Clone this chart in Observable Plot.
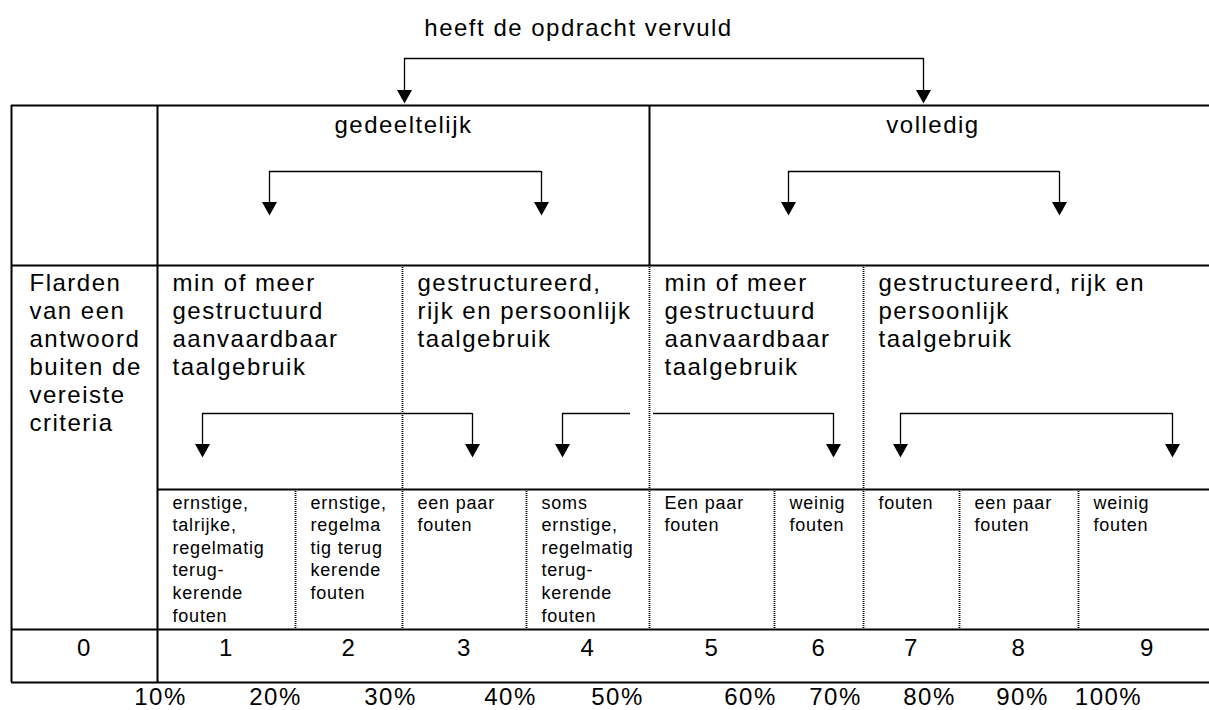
<!DOCTYPE html>
<html>
<head>
<meta charset="utf-8">
<script src="https://cdn.jsdelivr.net/npm/d3@7"></script>
<script src="https://cdn.jsdelivr.net/npm/@observablehq/plot@0.6"></script>
<style>
  html, body { margin: 0; padding: 0; background: white; }
</style>
</head>
<body>
<div id="chart"></div>
<script>
// ---------------- data ----------------
const title = "heeft de opdracht vervuld";
const fulfilment = ["gedeeltelijk", "volledig"];
const languageUse = [
  "min of meer\ngestructuurd\naanvaardbaar\ntaalgebruik",
  "gestructureerd,\nrijk en persoonlijk\ntaalgebruik",
  "min of meer\ngestructuurd\naanvaardbaar\ntaalgebruik",
  "gestructureerd, rijk en\npersoonlijk\ntaalgebruik"
];
const zeroDescription = "Flarden\nvan een\nantwoord\nbuiten de\nvereiste\ncriteria";
const errorDescriptions = [
  "ernstige,\ntalrijke,\nregelmatig\nterug-\nkerende\nfouten",
  "ernstige,\nregelma\ntig terug\nkerende\nfouten",
  "een paar\nfouten",
  "soms\nernstige,\nregelmatig\nterug-\nkerende\nfouten",
  "Een paar\nfouten",
  "weinig\nfouten",
  "fouten",
  "een paar\nfouten",
  "weinig\nfouten"
];
const scores = [0, 1, 2, 3, 4, 5, 6, 7, 8, 9];
const percentages = ["10%", "20%", "30%", "40%", "50%", "60%", "70%", "80%", "90%", "100%"];

// ---------------- layout (table geometry) ----------------
const colEdges = [11, 157, 295, 402, 526, 649, 774, 863, 959, 1078, 1216]; // cells of score 0..9
const rowEdges = [105, 265, 489, 629, 682];
const fulfilmentSpan = [[1, 4], [5, 9]];            // score ranges
const languageSpan = [[1, 2], [3, 4], [5, 6], [7, 9]];
const percentX = [160, 275, 390, 510, 617, 750, 835, 929, 1022, 1108];
const pad = 15;
const left = colEdges[0], right = colEdges[colEdges.length - 1];

const connectors = [
  {y: 58, x1: 404, x2: 923, heads: [404, 923], tip: 103},
  {y: 171, x1: 269, x2: 541, heads: [269, 541], tip: 215},
  {y: 171, x1: 788, x2: 1059, heads: [788, 1059], tip: 215},
  {y: 413, x1: 202, x2: 472, heads: [202, 472], tip: 457},
  {y: 413, x1: 562, x2: 630, heads: [562], tip: 457},
  {y: 413, x1: 653, x2: 833, heads: [833], tip: 457},
  {y: 413, x1: 900, x2: 1172, heads: [900, 1172], tip: 457}
];
const heads = connectors.flatMap(c => c.heads.map(x => ({x, y: c.y, tip: c.tip})));

// ---------------- derived tables ----------------
const solidV = [
  {x: colEdges[0], y1: rowEdges[0], y2: rowEdges[4]},
  {x: colEdges[1], y1: rowEdges[0], y2: rowEdges[4]},
  {x: colEdges[5], y1: rowEdges[0], y2: rowEdges[1]}
];
const solidH = [
  {y: rowEdges[0], x1: left, x2: right},
  {y: rowEdges[1], x1: left, x2: right},
  {y: rowEdges[2], x1: colEdges[1], x2: right},
  {y: rowEdges[3], x1: left, x2: right},
  {y: rowEdges[4], x1: left, x2: right}
];
const dottedV = [
  ...languageSpan.slice(1).map(([a]) => ({x: colEdges[a], y1: rowEdges[1], y2: rowEdges[2]})),
  ...scores.slice(2).map(s => ({x: colEdges[s], y1: rowEdges[2], y2: rowEdges[3]}))
];
const fulfilmentLabels = fulfilment.map((label, i) => ({
  label, x: (colEdges[fulfilmentSpan[i][0]] + colEdges[fulfilmentSpan[i][1] + 1]) / 2
}));
const bigLH = 28, smallLH = 22.6;
const row2Labels = [
  {label: zeroDescription, x: colEdges[0] + 18},
  ...languageUse.map((label, i) => ({label, x: colEdges[languageSpan[i][0]] + pad}))
];
const row3Labels = errorDescriptions.map((label, i) => ({label, x: colEdges[i + 1] + pad}));
const scoreLabels = scores.map(s => ({label: String(s), x: (colEdges[s] + colEdges[s + 1]) / 2}));
const percentLabels = percentages.map((label, i) => ({label, x: percentX[i]}));

const downTriangle = {
  draw(ctx) {
    ctx.moveTo(-7.5, -13.5);
    ctx.lineTo(7.5, -13.5);
    ctx.lineTo(0, 0);
    ctx.closePath();
  }
};

const svg = Plot.plot({
  width: 1209,
  height: 710,
  margin: 0,
  x: {type: "identity", axis: null},
  y: {type: "identity", axis: null},
  style: {fontFamily: "'Liberation Sans', Arial, sans-serif", background: "white", color: "black"},
  marks: [
    // table frame
    Plot.ruleX(solidV, {x: "x", y1: "y1", y2: "y2", stroke: "black", strokeWidth: 2}),
    Plot.ruleY(solidH, {y: "y", x1: "x1", x2: "x2", stroke: "black", strokeWidth: 2}),
    Plot.ruleX(dottedV, {x: "x", y1: "y1", y2: "y2", stroke: "black", strokeWidth: 1.8, strokeDasharray: "1,1"}),
    // arrows
    Plot.ruleY(connectors, {y: "y", x1: "x1", x2: "x2", stroke: "black", strokeWidth: 1.3}),
    Plot.ruleX(heads, {x: "x", y1: "y", y2: d => d.tip - 12, stroke: "black", strokeWidth: 1.3}),
    Plot.dot(heads, {x: "x", y: "tip", symbol: downTriangle, fill: "black", stroke: "none"}),
    // texts
    Plot.text([title], {x: () => 578, y: () => 35, text: d => d, fontSize: 24, lineAnchor: "bottom", fill: "black"}),
    Plot.text(fulfilmentLabels, {x: "x", y: () => 132, text: "label", fontSize: 24, lineAnchor: "bottom", fill: "black"}),
    Plot.text(row2Labels, {x: "x", y: () => rowEdges[1] + 6, text: "label", fontSize: 24, lineHeight: bigLH / 24, lineAnchor: "top", textAnchor: "start", fill: "black"}),
    Plot.text(row3Labels, {x: "x", y: () => rowEdges[2] + 3, text: "label", fontSize: 18, lineHeight: smallLH / 18, lineAnchor: "top", textAnchor: "start", fill: "black"}),
    Plot.text(scoreLabels, {x: "x", y: () => 655, text: "label", fontSize: 24, lineAnchor: "bottom", fill: "black"}),
    Plot.text(percentLabels, {x: "x", y: () => 704, text: "label", fontSize: 24, lineAnchor: "bottom", fill: "black"})
  ]
});

svg.querySelectorAll('g[font-size="24"]').forEach(g => g.setAttribute("letter-spacing", "1.5"));
svg.querySelectorAll('g[font-size="18"]').forEach(g => g.setAttribute("letter-spacing", "0.8"));
document.getElementById("chart").appendChild(svg);
</script>
</body>
</html>
